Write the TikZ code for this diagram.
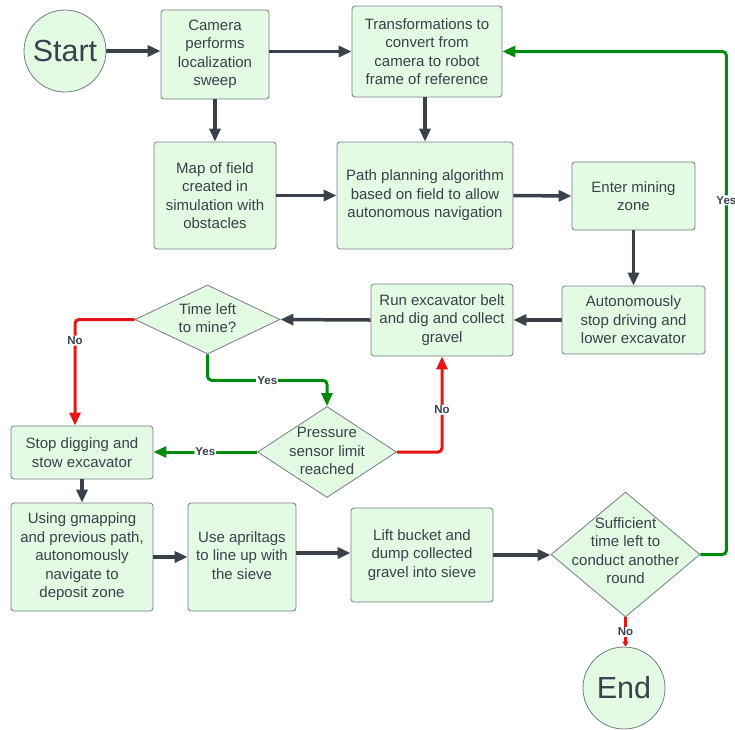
\documentclass[tikz,border=0pt]{standalone}
\usepackage{fontspec}
\setmainfont{Liberation Sans}
\usetikzlibrary{arrows.meta,shapes.geometric,calc}
\definecolor{fillc}{RGB}{227,250,227}
\definecolor{bordc}{RGB}{118,124,132}
\definecolor{darkc}{RGB}{58,65,74}
\definecolor{greenc}{RGB}{0,138,14}
\definecolor{redc}{RGB}{232,19,19}
\begin{document}
\begin{tikzpicture}[x=1pt,y=-1pt,
  box/.style={draw=bordc, fill=fillc, rounded corners=3pt, inner sep=0pt, align=center, text=darkc, line width=0.8pt, font=\fontsize{15}{18.5}\selectfont},
  dia/.style={draw=bordc, fill=fillc, shape=diamond, inner sep=0pt, line width=0.8pt},
  diatxt/.style={inner sep=0pt, align=center, text=darkc, font=\fontsize{15}{18.5}\selectfont},
  term/.style={draw=bordc, fill=fillc, shape=circle, inner sep=0pt, minimum size=82pt, text=darkc, line width=0.8pt, font=\fontsize{30.5}{32}\selectfont},
  darr/.style={draw=darkc, line width=3.5pt, -{Triangle[length=13pt,width=11pt]}},
  garr/.style={draw=greenc, line width=3pt, rounded corners=4pt, -{Triangle[length=13pt,width=11pt]}},
  rarr/.style={draw=redc, line width=3pt, rounded corners=4pt, -{Triangle[length=13pt,width=11pt]}},
  lbl/.style={fill=white, inner sep=1pt, text=darkc, font=\bfseries\fontsize{11.5}{12}\selectfont}
]
\useasboundingbox (0,0) rectangle (735,729);

% nodes
\node[term] (start) at (65,51) {Start};
\node[box, minimum width=108pt, minimum height=89pt] (camera) at (215,54.5) {Camera\\performs\\localization\\sweep};
\node[box, minimum width=150pt, minimum height=91pt] (trans) at (427,51.5) {Transformations to\\convert from\\camera to robot\\frame of reference};
\node[box, minimum width=122pt, minimum height=107pt] (map) at (215,195.5) {Map of field\\created in\\simulation with\\obstacles};
\node[box, minimum width=176pt, minimum height=107pt] (path) at (425,195.5) {\raisebox{3pt}{\begin{tabular}{@{}c@{}}Path planning algorithm\\based on field to allow\\autonomous navigation\end{tabular}}};
\node[box, minimum width=123pt, minimum height=68pt] (enter) at (633.5,196) {Enter mining\\zone};
\node[box, minimum width=143pt, minimum height=68pt] (auto) at (633.5,320) {Autonomously\\stop driving and\\lower excavator};
\node[box, minimum width=142pt, minimum height=72pt] (run) at (442,320) {Run excavator belt\\and dig and collect\\gravel};
\node[dia, minimum width=145pt, minimum height=69pt] (time) at (207.5,319.5) {};
\node[diatxt] (timeT) at (207.5,318) {Time left\\to mine?};
\node[dia, minimum width=139pt, minimum height=91pt] (press) at (327,452) {};
\node[diatxt] (pressT) at (327,451) {Pressure\\sensor limit\\reached};
\node[box, minimum width=142pt, minimum height=53pt] (stop) at (82,452.5) {Stop digging and\\stow excavator};
\node[box, minimum width=142pt, minimum height=108pt] (using) at (82,557) {Using gmapping\\and previous path,\\autonomously\\navigate to\\deposit zone};
\node[box, minimum width=108pt, minimum height=108pt] (april) at (242,557) {\raisebox{3pt}{\begin{tabular}{@{}c@{}}Use apriltags\\to line up with\\the sieve\end{tabular}}};
\node[box, minimum width=142pt, minimum height=94pt] (lift) at (422,555) {Lift bucket and\\dump collected\\gravel into sieve};
\node[dia, minimum width=149pt, minimum height=125pt] (suff) at (625.5,554.5) {};
\node[diatxt] (suffT) at (625.5,550.5) {Sufficient\\time left to\\conduct another\\round};
\node[term] (end) at (624,688) {End};

% connectors
\draw[darr] (start.east) -- (start.east -| camera.west);
\draw[darr] (trans.west -| camera.east) -- (trans.west);
\draw[darr] (camera.south) -- (map.north);
\draw[darr] (map.east) -- (path.west);
\draw[darr] (path.north |- trans.south) -- (path.north);
\draw[darr] (path.east) -- (enter.west);
\draw[darr] (enter.south) -- (auto.north);
\draw[darr] (auto.west) -- (run.east);
\draw[darr] (run.west) -- (time.east);
\draw[rarr] (time.west) -| node[lbl, pos=0.6] {No} ($(stop.north)+(-7,0)$);
\coordinate (m1) at ($(time.south)!0.5!(press.north)$);
\draw[garr] (time.south) |- (m1) -| (press.north);
\node[lbl] at (m1) {Yes};
\draw[garr] (press.west) -- node[lbl] {Yes} (press.west -| stop.east);
\draw[rarr] (press.east) -| node[lbl, pos=0.72] {No} (run.south);
\draw[darr] (stop.south) -- (using.north);
\draw[darr] (using.east) -- (using.east -| april.west);
\draw[darr] ($(april.east)+(0,-4)$) -- ($(april.east -| lift.west)+(0,-4)$);
\draw[darr] (lift.east) -- (lift.east -| suff.west);
\draw[garr] (suff.east) -| node[lbl, pos=0.852] {Yes} ($(trans.east)+(224,0)$) -- (trans.east);
\draw[draw=redc, line width=3pt, -{Triangle[length=5pt,width=6pt]}] (suff.south) -- node[lbl] {No} (suff.south |- end.north);
\end{tikzpicture}
\end{document}
